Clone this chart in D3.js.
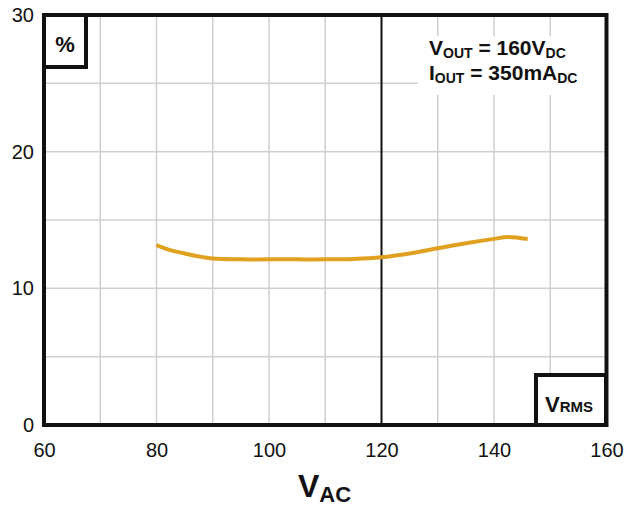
<!DOCTYPE html>
<html><head><meta charset="utf-8">
<script src="https://cdn.jsdelivr.net/npm/d3@7"></script>
<style>body{margin:0;background:#fff}svg{display:block}text{font-family:"Liberation Sans",Arial,sans-serif}</style>
</head><body><svg id="c" width="628" height="508"></svg>
<script>
const vac = [80,82,85,88,90,95,100,105,110,115,120,125,130,135,140,142.5,146];
const eff = [13.17,12.85,12.55,12.3,12.18,12.12,12.12,12.12,12.12,12.15,12.27,12.55,12.93,13.3,13.62,13.75,13.6];
const xTicks = [60,80,100,120,140,160];
const yTicks = [0,10,20,30];
const xGrid = [70,80,90,100,110,130,140,150];
const yGrid = [5,10,15,20,25];

const svg = d3.select("#c");
const x = d3.scaleLinear().domain([60,160]).range([44,606.5]);
const y = d3.scaleLinear().domain([0,30]).range([425,15]);

svg.append("g").selectAll("line").data(xGrid).join("line")
  .attr("x1",d=>x(d)).attr("x2",d=>x(d)).attr("y1",y(0)).attr("y2",y(30))
  .attr("stroke","#cfcfcf").attr("stroke-width",1.5);
svg.append("g").selectAll("line").data(yGrid).join("line")
  .attr("y1",d=>y(d)).attr("y2",d=>y(d)).attr("x1",x(60)).attr("x2",x(160))
  .attr("stroke","#cfcfcf").attr("stroke-width",1.5);

svg.append("rect").attr("x",418).attr("y",36).attr("width",186).attr("height",59).attr("fill","#fff");

svg.append("line").attr("x1",x(120)).attr("x2",x(120)).attr("y1",y(0)).attr("y2",y(30))
  .attr("stroke","#111").attr("stroke-width",2);

svg.append("path").datum(vac.map((v,i)=>[v,eff[i]]))
  .attr("d",d3.line().x(d=>x(d[0])).y(d=>y(d[1])).curve(d3.curveCatmullRom.alpha(0.5)))
  .attr("fill","none").attr("stroke","#E0A020").attr("stroke-width",4);

svg.append("rect").attr("x",x(60)).attr("y",y(30)).attr("width",x(160)-x(60)).attr("height",y(0)-y(30))
  .attr("fill","none").attr("stroke","#111").attr("stroke-width",4);

const xa = d3.axisBottom(x).tickValues(xTicks).tickSize(0).tickPadding(18);
const gx = svg.append("g").attr("transform",`translate(0,${y(0)})`).call(xa);
gx.select(".domain").remove();
gx.selectAll("text").attr("font-size",20).attr("fill","#111").style("font-family","Liberation Sans, Arial, sans-serif");
const ya = d3.axisLeft(y).tickValues(yTicks).tickSize(0).tickPadding(10);
const gy = svg.append("g").attr("transform",`translate(${x(60)},0)`).call(ya);
gy.select(".domain").remove();
gy.selectAll("text").attr("font-size",20).attr("fill","#111").style("font-family","Liberation Sans, Arial, sans-serif");

svg.append("rect").attr("x",44).attr("y",15).attr("width",42).attr("height",52).attr("fill","#fff").attr("stroke","#111").attr("stroke-width",4);
svg.append("text").attr("x",65).attr("y",52).attr("text-anchor","middle").attr("font-size",22).attr("font-weight","bold").attr("fill","#111").text("%");

svg.append("rect").attr("x",536).attr("y",375).attr("width",70).attr("height",50).attr("fill","#fff").attr("stroke","#111").attr("stroke-width",4);
const vr = svg.append("text").attr("x",545).attr("y",412).attr("font-weight","bold").attr("fill","#111").attr("font-size",22);
vr.append("tspan").text("V");
vr.append("tspan").attr("font-size",15).text("RMS");

const t1 = svg.append("text").attr("x",429).attr("y",55).attr("font-weight","bold").attr("fill","#111").attr("font-size",21);
t1.append("tspan").text("V");
t1.append("tspan").attr("font-size",14).attr("dy",3).text("OUT");
t1.append("tspan").attr("dy",-3).text(" = 160V");
t1.append("tspan").attr("font-size",14).attr("dy",3).text("DC");
const t2 = svg.append("text").attr("x",429).attr("y",80).attr("font-weight","bold").attr("fill","#111").attr("font-size",21);
t2.append("tspan").text("I");
t2.append("tspan").attr("font-size",14).attr("dy",3).text("OUT");
t2.append("tspan").attr("dy",-3).text(" = 350mA");
t2.append("tspan").attr("font-size",14).attr("dy",3).text("DC");

const xt = svg.append("text").attr("x",298).attr("y",497).attr("font-weight","bold").attr("fill","#111").attr("font-size",32);
xt.append("tspan").text("V");
xt.append("tspan").attr("font-size",22).attr("dy",5).text("AC");
</script></body></html>
